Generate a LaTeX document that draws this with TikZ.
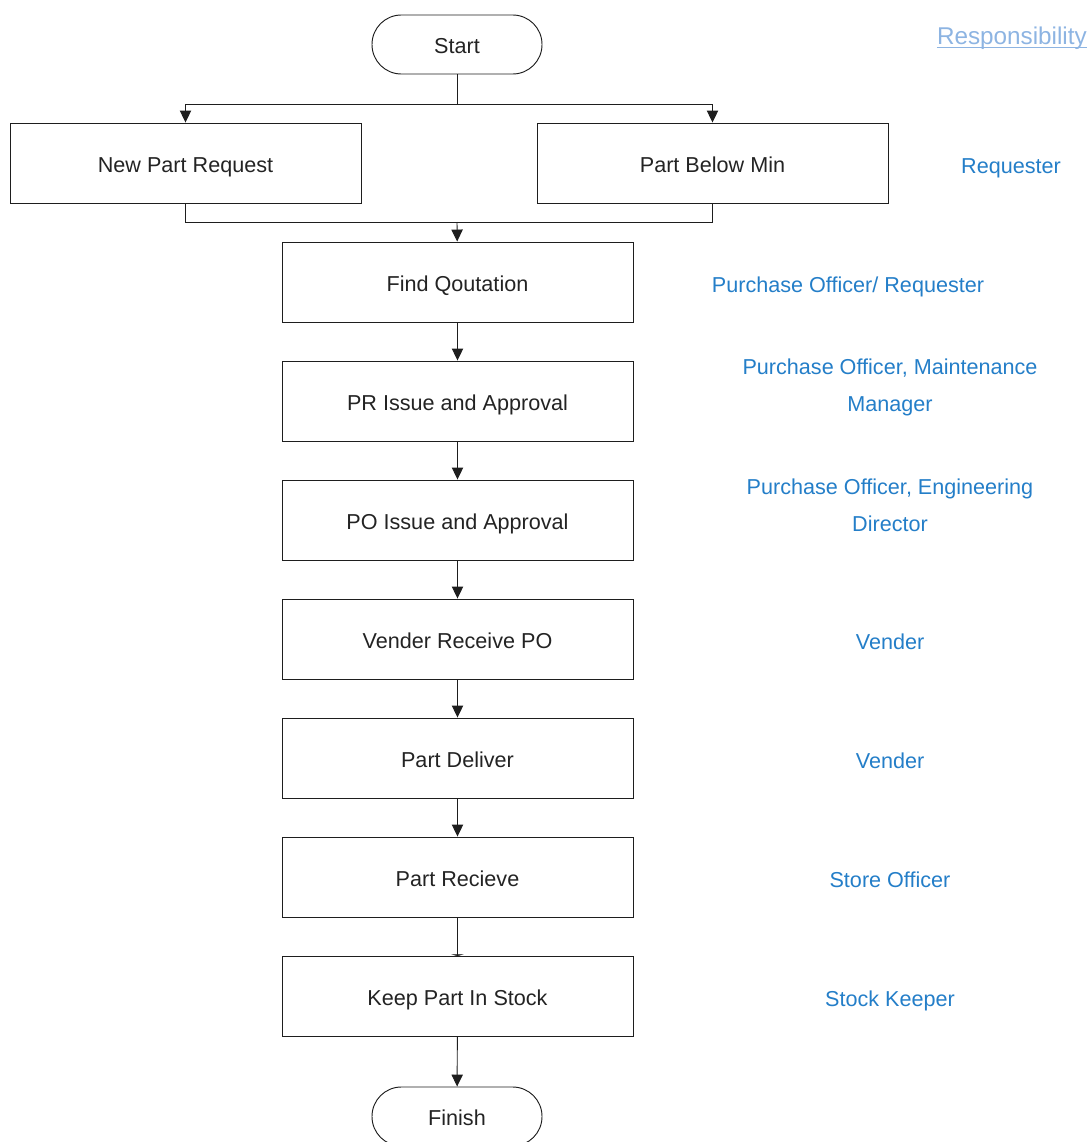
\documentclass[tikz,border=0pt]{standalone}
\usepackage{fontspec}
\setmainfont{Liberation Sans}
\usetikzlibrary{arrows.meta}
\definecolor{roleblue}{RGB}{36,126,200}
\definecolor{headblue}{RGB}{141,180,226}
\definecolor{edge}{RGB}{30,30,30}
\definecolor{ink}{RGB}{35,35,35}
\begin{document}
\begin{tikzpicture}[x=0.75pt,y=-0.75pt,
  every node/.style={font=\fontsize{16.2}{27.75}\selectfont, inner sep=0pt},
  stepbox/.style={draw=edge, text=ink, line width=0.7pt, minimum width=351*0.75pt, minimum height=80*0.75pt,
    text height=1.52em, text depth=0.1em},
  terminal/.style={draw=edge, text=ink, line width=0.7pt, rounded corners=22pt, minimum width=170*0.75pt,
    minimum height=59*0.75pt, text height=1.52em, text depth=0.1em},
  role/.style={text=roleblue, align=center, text height=1.52em, text depth=0.1em},
  link/.style={draw=edge, line width=0.7pt},
  arr/.style={link, -{Triangle[length=9pt,width=8.5pt]}},
  flatarr/.style={link, -{Triangle[length=1.2pt,width=9pt]}}
]
\useasboundingbox (0,0) rectangle (1089,1142);
\clip (0,0) rectangle (1089,1142);

% process boxes
\node[terminal] (start) at (457,44.5) {Start};
\node[stepbox] (npr) at (185.5,163) {New Part Request};
\node[stepbox] (pbm) at (712.5,163) {Part Below Min};
\node[stepbox] (fq)  at (457.5,282) {Find Qoutation};
\node[stepbox] (pr)  at (457.5,401) {PR Issue and Approval};
\node[stepbox] (po)  at (457.5,520) {PO Issue and Approval};
\node[stepbox] (vr)  at (457.5,639) {Vender Receive PO};
\node[stepbox] (pd)  at (457.5,758) {Part Deliver};
\node[stepbox] (prc) at (457.5,877) {Part Recieve};
\node[stepbox] (kp)  at (457.5,996.5) {Keep Part In Stock};
\node[terminal] (fin) at (457,1116.5) {Finish};

% connectors
\coordinate (split) at (457,104);
\coordinate (merge) at (457,222);
\draw[link] (start) -- (split);
\draw[arr] (split) -| (npr);
\draw[arr] (split) -| (pbm);
\draw[link] (npr.south) |- (merge);
\draw[link] (pbm.south) |- (merge);
\draw[arr] (merge) -- (fq);
\draw[arr] (fq) -- (pr);
\draw[arr] (pr) -- (po);
\draw[arr] (po) -- (vr);
\draw[arr] (vr) -- (pd);
\draw[arr] (pd) -- (prc);
\draw[flatarr] (prc) -- (kp);
\draw[arr] (kp) -- (fin);

% responsibility column
\node[text=headblue, anchor=base east, font=\fontsize{18.2}{22}\selectfont] (head) at (1087,44) {Responsibility};
\draw[headblue, line width=0.8pt] ([yshift=-2.4pt]head.base west) -- ([yshift=-2.4pt]head.base east);
\node[role] (r1) at (1011,164) {Requester};
\node[role] (r2) at (848,283) {Purchase Officer/ Requester};
\node[role] (r3) at (890,402) {Purchase Officer, Maintenance\\Manager};
\node[role] (r4) at (890,522) {Purchase Officer, Engineering\\Director};
\node[role] (r5) at (890,640) {Vender};
\node[role] (r6) at (890,759) {Vender};
\node[role] (r7) at (890,878) {Store Officer};
\node[role] (r8) at (890,997) {Stock Keeper};
\end{tikzpicture}
\end{document}
